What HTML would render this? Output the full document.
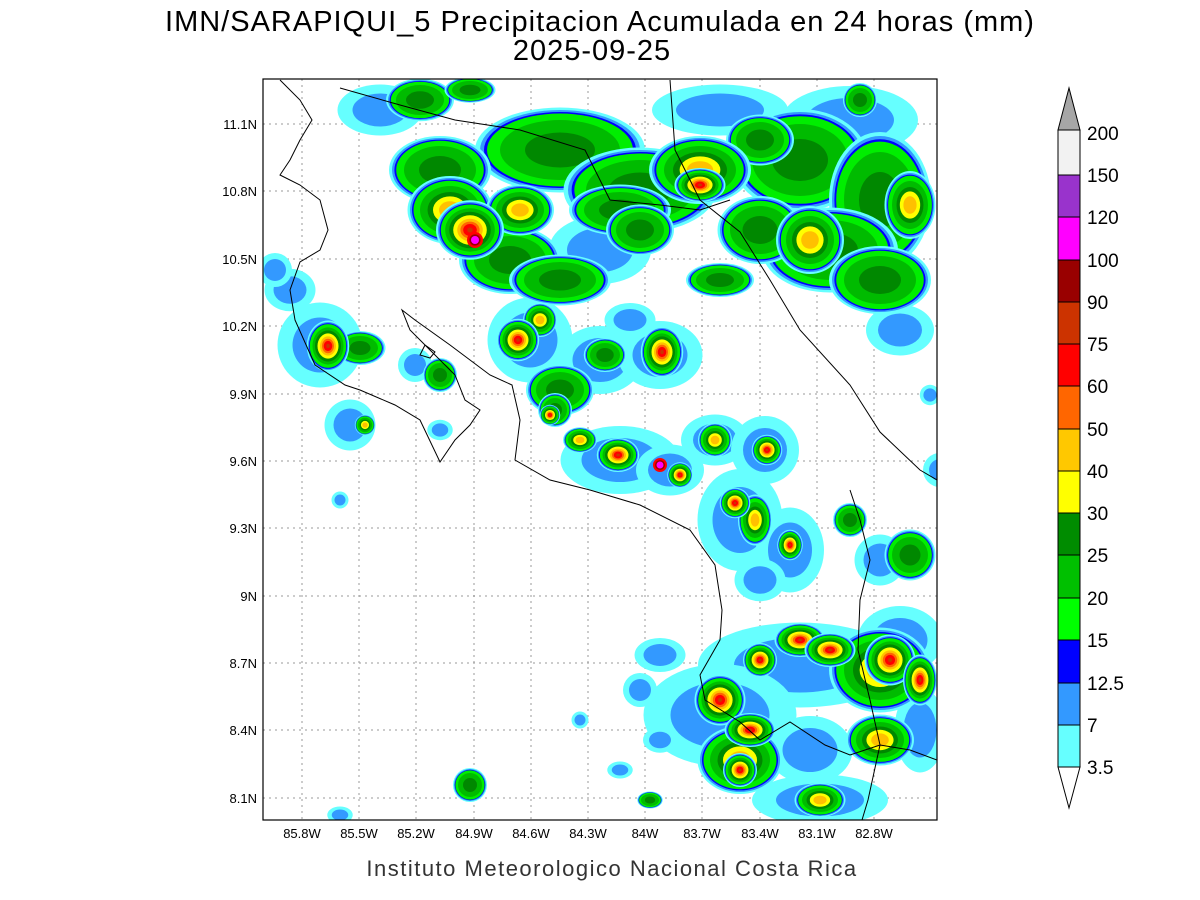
<!DOCTYPE html>
<html><head><meta charset="utf-8"><style>
html,body{margin:0;padding:0;background:#fff;}
svg{display:block;font-family:"Liberation Sans",sans-serif;}
</style></head><body>
<svg width="1200" height="900" viewBox="0 0 1200 900" xmlns="http://www.w3.org/2000/svg">
<defs>
<clipPath id="pc"><rect x="263" y="79" width="674" height="741"/></clipPath>
<g id="c"><circle r="8.5" fill="#66ffff"/><circle r="5.5" fill="#3399ff"/></g>
<g id="g"><circle r="8.5" fill="#66ffff"/><circle r="8" fill="#3399ff"/><circle r="7.6" fill="#0000ff"/><circle r="7.3" fill="#00ee00"/><circle r="6" fill="#00bb00"/><circle r="3.5" fill="#008800"/></g>
<g id="y"><circle r="8.5" fill="#66ffff"/><circle r="8" fill="#3399ff"/><circle r="7.6" fill="#0000ff"/><circle r="7.3" fill="#00ee00"/><circle r="6" fill="#00bb00"/><circle r="4.5" fill="#008800"/><circle r="3.4" fill="#ffff00"/><circle r="2.2" fill="#ffc000"/></g>
<g id="r"><circle r="8.5" fill="#66ffff"/><circle r="8" fill="#3399ff"/><circle r="7.6" fill="#0000ff"/><circle r="7.3" fill="#00ee00"/><circle r="6.2" fill="#00bb00"/><circle r="5.2" fill="#008800"/><circle r="4.2" fill="#ffff00"/><circle r="3.2" fill="#ffc000"/><circle r="2.4" fill="#ff6600"/><circle r="1.7" fill="#ff0000"/><circle r="0.7" fill="#cc3300"/></g>
<g id="m"><circle r="10" fill="#ff0000"/><circle r="7" fill="#990000"/><circle r="5" fill="#ff00ff"/></g>
</defs>
<text x="600" y="31" font-size="29" text-anchor="middle" fill="#000" letter-spacing="1">IMN/SARAPIQUI_5 Precipitacion Acumulada en 24 horas (mm)</text>
<text x="592" y="60" font-size="29" text-anchor="middle" fill="#000" letter-spacing="1">2025-09-25</text>
<g clip-path="url(#pc)">
<g stroke="#999" stroke-dasharray="2,4" stroke-width="1">
<line x1="302" y1="79" x2="302" y2="820"/><line x1="359" y1="79" x2="359" y2="820"/><line x1="416" y1="79" x2="416" y2="820"/><line x1="474" y1="79" x2="474" y2="820"/><line x1="531" y1="79" x2="531" y2="820"/><line x1="588" y1="79" x2="588" y2="820"/><line x1="645" y1="79" x2="645" y2="820"/><line x1="702" y1="79" x2="702" y2="820"/><line x1="760" y1="79" x2="760" y2="820"/><line x1="817" y1="79" x2="817" y2="820"/><line x1="874" y1="79" x2="874" y2="820"/>
<line x1="263" y1="124" x2="937" y2="124"/><line x1="263" y1="191" x2="937" y2="191"/><line x1="263" y1="259" x2="937" y2="259"/><line x1="263" y1="326" x2="937" y2="326"/><line x1="263" y1="394" x2="937" y2="394"/><line x1="263" y1="461" x2="937" y2="461"/><line x1="263" y1="528" x2="937" y2="528"/><line x1="263" y1="596" x2="937" y2="596"/><line x1="263" y1="663" x2="937" y2="663"/><line x1="263" y1="730" x2="937" y2="730"/><line x1="263" y1="798" x2="937" y2="798"/>
</g>
<use href="#c" transform="translate(380,110) scale(5,3)"/>
<use href="#c" transform="translate(720,110) scale(8,3)"/>
<use href="#c" transform="translate(850,120) scale(8,4)"/>
<use href="#c" transform="translate(600,250) scale(6,4)"/>
<use href="#c" transform="translate(900,330) scale(4,3)"/>
<use href="#c" transform="translate(290,290) scale(3,2.5)"/>
<use href="#c" transform="translate(275,270) scale(2,2)"/>
<use href="#c" transform="translate(320,345) scale(5,5)"/>
<use href="#c" transform="translate(350,425) scale(3,3)"/>
<use href="#c" transform="translate(415,365) scale(2,2)"/>
<use href="#c" transform="translate(530,340) scale(5,5)"/>
<use href="#c" transform="translate(600,360) scale(5,4)"/>
<use href="#c" transform="translate(660,355) scale(5,4)"/>
<use href="#c" transform="translate(630,320) scale(3,2)"/>
<use href="#c" transform="translate(620,460) scale(7,4)"/>
<use href="#c" transform="translate(670,470) scale(4,3)"/>
<use href="#c" transform="translate(715,440) scale(4,3)"/>
<use href="#c" transform="translate(765,450) scale(4,4)"/>
<use href="#c" transform="translate(740,520) scale(5,6)"/>
<use href="#c" transform="translate(790,550) scale(4,5)"/>
<use href="#c" transform="translate(760,580) scale(3,2.5)"/>
<use href="#c" transform="translate(880,560) scale(3,3)"/>
<use href="#c" transform="translate(930,395) scale(1.2,1.2)"/>
<use href="#c" transform="translate(940,470) scale(2,2)"/>
<use href="#c" transform="translate(800,665) scale(12,5)"/>
<use href="#c" transform="translate(900,640) scale(5,4)"/>
<use href="#c" transform="translate(720,715) scale(9,6)"/>
<use href="#c" transform="translate(810,750) scale(5,4)"/>
<use href="#c" transform="translate(920,730) scale(3,5)"/>
<use href="#c" transform="translate(820,800) scale(8,3)"/>
<use href="#c" transform="translate(660,740) scale(2,1.5)"/>
<use href="#c" transform="translate(640,690) scale(2,2)"/>
<use href="#c" transform="translate(660,655) scale(3,2)"/>
<use href="#c" transform="translate(440,430) scale(1.5,1.2)"/>
<use href="#c" transform="translate(340,500) scale(1,1)"/>
<use href="#c" transform="translate(580,720) scale(1,1)"/>
<use href="#c" transform="translate(620,770) scale(1.5,1)"/>
<use href="#c" transform="translate(340,815) scale(1.5,1)"/>
<use href="#g" transform="translate(420,100) scale(4,2.5)"/>
<use href="#g" transform="translate(470,90) scale(3,1.5)"/>
<use href="#g" transform="translate(560,150) scale(10,5)"/>
<use href="#g" transform="translate(640,190) scale(9,5)"/>
<use href="#g" transform="translate(800,160) scale(8,6)"/>
<use href="#g" transform="translate(880,200) scale(6,8)"/>
<use href="#g" transform="translate(830,250) scale(8,5)"/>
<use href="#g" transform="translate(880,280) scale(6,4)"/>
<use href="#g" transform="translate(860,100) scale(2,2)"/>
<use href="#g" transform="translate(760,140) scale(4,3)"/>
<use href="#g" transform="translate(440,170) scale(6,4)"/>
<use href="#g" transform="translate(510,260) scale(6,4)"/>
<use href="#g" transform="translate(560,280) scale(6,3)"/>
<use href="#g" transform="translate(620,210) scale(6,3)"/>
<use href="#g" transform="translate(640,230) scale(4,3)"/>
<use href="#g" transform="translate(760,230) scale(5,4)"/>
<use href="#g" transform="translate(720,280) scale(4,2)"/>
<use href="#g" transform="translate(360,348) scale(3,2)"/>
<use href="#g" transform="translate(440,375) scale(2,2)"/>
<use href="#g" transform="translate(560,390) scale(4,3)"/>
<use href="#g" transform="translate(605,355) scale(2.5,2)"/>
<use href="#g" transform="translate(555,410) scale(2,2)"/>
<use href="#g" transform="translate(850,520) scale(2,2)"/>
<use href="#g" transform="translate(910,555) scale(3,3)"/>
<use href="#g" transform="translate(470,785) scale(2,2)"/>
<use href="#g" transform="translate(650,800) scale(1.5,1)"/>
<use href="#y" transform="translate(700,170) scale(6,4)"/>
<use href="#y" transform="translate(910,205) scale(3,4)"/>
<use href="#y" transform="translate(810,240) scale(4,4)"/>
<use href="#y" transform="translate(450,210) scale(5,4)"/>
<use href="#y" transform="translate(520,210) scale(4,3)"/>
<use href="#y" transform="translate(540,320) scale(2,2)"/>
<use href="#y" transform="translate(580,440) scale(2,1.5)"/>
<use href="#y" transform="translate(715,440) scale(2,2)"/>
<use href="#y" transform="translate(755,520) scale(2,3)"/>
<use href="#y" transform="translate(880,670) scale(6,5)"/>
<use href="#y" transform="translate(740,760) scale(5,4)"/>
<use href="#y" transform="translate(880,740) scale(4,3)"/>
<use href="#y" transform="translate(820,800) scale(3,2)"/>
<use href="#y" transform="translate(365,425) scale(1.2,1.2)"/>
<use href="#r" transform="translate(700,185) scale(3,2)"/>
<use href="#r" transform="translate(470,230) scale(4,3.5)"/>
<use href="#r" transform="translate(328,346) scale(2.5,3)"/>
<use href="#r" transform="translate(518,340) scale(2.5,2.5)"/>
<use href="#r" transform="translate(662,352) scale(2.5,3)"/>
<use href="#r" transform="translate(550,415) scale(1.2,1.2)"/>
<use href="#r" transform="translate(618,455) scale(2.5,2)"/>
<use href="#r" transform="translate(680,475) scale(1.5,1.5)"/>
<use href="#r" transform="translate(767,450) scale(1.8,1.8)"/>
<use href="#r" transform="translate(735,503) scale(1.8,1.8)"/>
<use href="#r" transform="translate(790,545) scale(1.5,1.8)"/>
<use href="#r" transform="translate(800,640) scale(3,2)"/>
<use href="#r" transform="translate(760,660) scale(2,2)"/>
<use href="#r" transform="translate(830,650) scale(3,2)"/>
<use href="#r" transform="translate(890,660) scale(3,3)"/>
<use href="#r" transform="translate(920,680) scale(2,3)"/>
<use href="#r" transform="translate(720,700) scale(3,3)"/>
<use href="#r" transform="translate(750,730) scale(3,2)"/>
<use href="#r" transform="translate(740,770) scale(2,2)"/>
<use href="#m" transform="translate(475,240) scale(0.8,0.8)"/>
<use href="#m" transform="translate(660,465) scale(0.7,0.7)"/>
<g fill="none" stroke="#000" stroke-width="1">
<polyline points="280,80 300,100 312,120 300,140 290,160 280,175 300,185 320,200 328,230 320,250 300,262 290,290 295,320 315,365 345,385 360,390 395,405 420,420 440,462 455,440 470,425 480,410 465,400 455,375 430,350 410,330 402,310 415,320 450,345 490,375 512,385 520,420 515,460 550,480 590,490 640,505 690,530 715,565 722,610 720,640 700,675 705,700 740,722 760,740 790,722 825,745 850,755 880,745 910,750 937,760"/>
<polyline points="670,80 675,150 700,200 740,232 770,280 800,330 850,385 880,432 920,470 937,480"/>
<polyline points="340,88 400,105 455,120 520,130 585,150 610,200 660,205 700,210 730,200"/>
<polyline points="850,490 860,520 870,560 860,600 858,650 870,700 880,745 868,800 862,820"/>
<polyline points="425,345 435,352 430,358 420,355 425,345"/>
</g>
</g>
<rect x="263" y="79" width="674" height="741" fill="none" stroke="#000" stroke-width="1.2"/>
<g font-size="13" fill="#000" text-anchor="end">
<text x="257" y="129">11.1N</text><text x="257" y="196">10.8N</text><text x="257" y="264">10.5N</text><text x="257" y="331">10.2N</text><text x="257" y="399">9.9N</text><text x="257" y="466">9.6N</text><text x="257" y="533">9.3N</text><text x="257" y="601">9N</text><text x="257" y="668">8.7N</text><text x="257" y="735">8.4N</text><text x="257" y="803">8.1N</text>
</g>
<g font-size="13" fill="#000" text-anchor="middle">
<text x="302" y="838">85.8W</text><text x="359" y="838">85.5W</text><text x="416" y="838">85.2W</text><text x="474" y="838">84.9W</text><text x="531" y="838">84.6W</text><text x="588" y="838">84.3W</text><text x="645" y="838">84W</text><text x="702" y="838">83.7W</text><text x="760" y="838">83.4W</text><text x="817" y="838">83.1W</text><text x="874" y="838">82.8W</text>
</g>
<text x="612" y="876" font-size="22" text-anchor="middle" fill="#333" letter-spacing="1.5">Instituto Meteorologico Nacional Costa Rica</text>
<g stroke="#000" stroke-width="1">
<polygon points="1058,130 1069,88 1080,130" fill="#a6a6a6"/>
<rect x="1058" y="130" width="22" height="45" fill="#f2f2f2"/>
<rect x="1058" y="175" width="22" height="42" fill="#9933cc"/>
<rect x="1058" y="217" width="22" height="43" fill="#ff00ff"/>
<rect x="1058" y="260" width="22" height="42" fill="#990000"/>
<rect x="1058" y="302" width="22" height="42" fill="#cc3300"/>
<rect x="1058" y="344" width="22" height="42" fill="#ff0000"/>
<rect x="1058" y="386" width="22" height="43" fill="#ff6600"/>
<rect x="1058" y="429" width="22" height="42" fill="#ffc800"/>
<rect x="1058" y="471" width="22" height="42" fill="#ffff00"/>
<rect x="1058" y="513" width="22" height="42" fill="#008c00"/>
<rect x="1058" y="555" width="22" height="43" fill="#00c000"/>
<rect x="1058" y="598" width="22" height="42" fill="#00ff00"/>
<rect x="1058" y="640" width="22" height="43" fill="#0000ff"/>
<rect x="1058" y="683" width="22" height="42" fill="#3399ff"/>
<rect x="1058" y="725" width="22" height="42" fill="#66ffff"/>
<polygon points="1058,767 1069,808 1080,767" fill="#fff"/>
</g>
<g font-size="19" fill="#000">
<text x="1087" y="140">200</text><text x="1087" y="182">150</text><text x="1087" y="224">120</text><text x="1087" y="267">100</text><text x="1087" y="309">90</text><text x="1087" y="351">75</text><text x="1087" y="393">60</text><text x="1087" y="436">50</text><text x="1087" y="478">40</text><text x="1087" y="520">30</text><text x="1087" y="562">25</text><text x="1087" y="605">20</text><text x="1087" y="647">15</text><text x="1087" y="690">12.5</text><text x="1087" y="732">7</text><text x="1087" y="774">3.5</text>
</g>
</svg>
</body></html>
